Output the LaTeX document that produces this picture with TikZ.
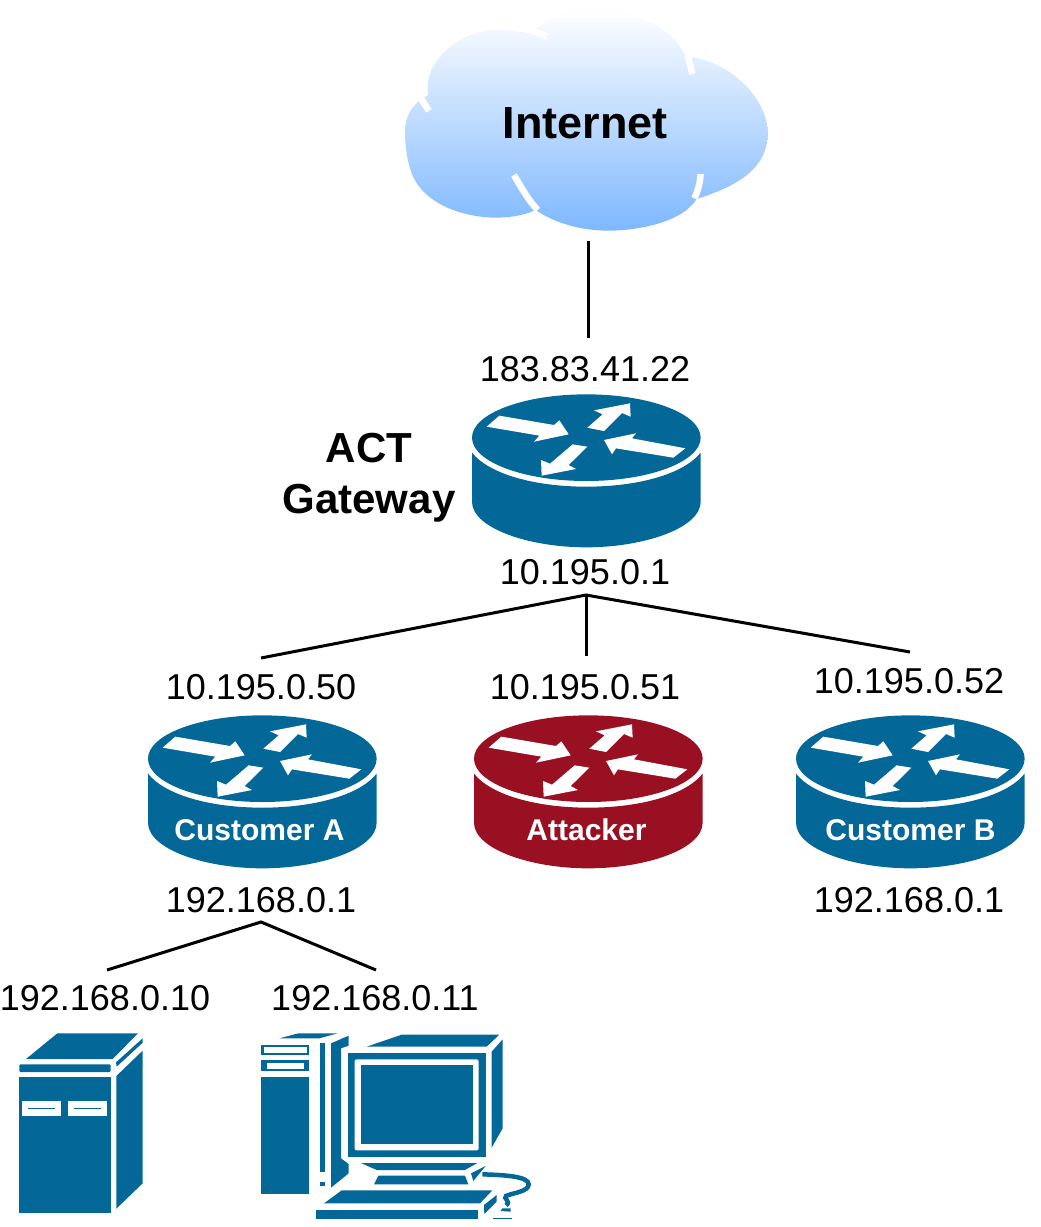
\documentclass[tikz,border=0pt]{standalone}
\usepackage{fontspec}
\setmainfont{Liberation Sans}
\definecolor{ciscoblue}{HTML}{036897}
\definecolor{attackred}{HTML}{981022}
\definecolor{cloudtop}{HTML}{FFFFFF}
\definecolor{cloudbot}{HTML}{7EB8FF}
\tikzset{
  lab/.style={font=\fontsize{36}{40}\selectfont,inner sep=0pt},
  boldlab/.style={font=\fontsize{42}{48}\selectfont\bfseries,inner sep=0pt,align=center},
  inrouter/.style={font=\fontsize{30}{34}\selectfont\bfseries,text=white,inner sep=0pt},
  link/.style={line width=3pt,black},
  cloudgap/.style={white,line width=6.5pt},
  zoomed/.style={scale=1/3},
  pics/router/.style={code={
    \begin{scope}[zoomed]
      \fill[#1] (379,158) ellipse [x radius=343,y radius=130];
      \fill[#1] (36,203) .. controls (90,270) and (230,305) .. (379,305)
        .. controls (528,305) and (668,270) .. (722,203) -- (722,350)
        .. controls (722,430) and (550,487) .. (379,487)
        .. controls (208,487) and (36,430) .. (36,350) -- cycle;
      \fill[white] (80,125) -- (118,92) -- (282,120) -- (298,106) -- (326,148) -- (222,170) -- (238,152) -- cycle;
      \fill[white] (382,128) -- (428,88) -- (402,76) -- (510,55) -- (512,95) -- (486,84) -- (432,138) -- cycle;
      \fill[white] (676,190) -- (640,218) -- (468,190) -- (456,208) -- (432,165) -- (528,145) -- (516,160) -- cycle;
      \fill[white] (338,178) -- (382,185) -- (326,240) -- (348,252) -- (245,272) -- (243,225) -- (270,236) -- cycle;
    \end{scope}
  }},
}
\begin{document}
\begin{tikzpicture}[x=1pt,y=-1pt]
\useasboundingbox (0,0) rectangle (1041,1227);
% cloud
\begin{scope}[shift={(395,0)},zoomed]
  \shade[top color=cloudtop,bottom color=cloudbot,draw=none]
    (425,85) .. controls (470,40) and (560,25) .. (620,28)
    .. controls (730,35) and (835,90) .. (870,165)
    -- (890,172)
    .. controls (1000,185) and (1118,290) .. (1118,400)
    .. controls (1118,510) and (1020,560) .. (905,597)
    .. controls (860,670) and (720,692) .. (640,692)
    .. controls (560,692) and (480,670) .. (422,630)
    .. controls (380,650) and (330,653) .. (300,653)
    .. controls (180,650) and (80,600) .. (50,520)
    .. controls (35,480) and (30,430) .. (30,395)
    .. controls (30,350) and (50,320) .. (78,298)
    -- (100,285)
    .. controls (80,190) and (190,92) .. (300,90)
    .. controls (345,90) and (385,95) .. (415,103) -- cycle;
  \draw[cloudgap] (78,296) -- (102,332);
  \draw[cloudgap] (412,92) -- (456,110);
  \draw[cloudgap] (878,166) -- (892,222);
  \draw[cloudgap] (357,525) .. controls (380,565) and (400,600) .. (428,630);
  \draw[cloudgap] (917,522) .. controls (915,550) and (908,575) .. (898,595);
\end{scope}
\node[boldlab,font=\fontsize{45}{50}\selectfont\bfseries] (inet) at (585,123) {Internet};
% routers
\pic (rgate) at (460,385) {router=ciscoblue};
\pic (rcusta) at (136,706) {router=ciscoblue};
\pic (rattack) at (462,706) {router=attackred};
\pic (rcustb) at (784,706) {router=ciscoblue};
% labels
\node[lab] (wan) at (585,369) {183.83.41.22};
\node[boldlab] (act) at (369,448) {ACT};
\node[boldlab] (gw) at (369,503) {Gateway};
\node[lab] (lan) at (585,572) {10.195.0.1};
\node[lab] (ipa) at (261,687) {10.195.0.50};
\node[lab] (ipx) at (585,687) {10.195.0.51};
\node[lab] (ipb) at (909,681) {10.195.0.52};
\node[inrouter] (na) at (259.5,830) {Customer A};
\node[inrouter] (nx) at (586.5,830) {Attacker};
\node[inrouter] (nb) at (910.5,830) {Customer B};
\node[lab] (lana) at (261,900) {192.168.0.1};
\node[lab] (lanb) at (909,900) {192.168.0.1};
\node[lab] (h1) at (105,998.5) {192.168.0.10};
\node[lab] (h2) at (375,998.5) {192.168.0.11};
% connectors
\coordinate (cloudend) at (588,241);
\coordinate (wanend) at (588,338);
\coordinate (hub) at (586,595);
\coordinate (enda) at (261,658);
\coordinate (endx) at (586,656);
\coordinate (endb) at (910,652);
\coordinate (huba) at (261,922);
\coordinate (endh1) at (107,970);
\coordinate (endh2) at (376,970);
\draw[link] (cloudend) -- (wanend);
\draw[link] (enda) -- (hub) -- (endb);
\draw[link] (hub) -- (endx);
\draw[link] (endh1) -- (huba) -- (endh2);
% server
\begin{scope}[shift={(0,1020)},zoomed]
  \fill[ciscoblue] (172,40) -- (414,40) -- (338,117) -- (78,117) -- cycle;
  \fill[ciscoblue,rounded corners=1pt] (58,133) rectangle (332,156);
  \fill[ciscoblue] (348,127) -- (428,55) -- (428,68) -- (350,140) -- cycle;
  \fill[ciscoblue] (349,168) -- (428,92) -- (428,490) -- (349,566) -- cycle;
  \fill[ciscoblue] (58,172) rectangle (332,580);
  \fill[white] (65,244) rectangle (183,287);
  \fill[white] (203,244) rectangle (321,287);
  \fill[ciscoblue] (83,263) rectangle (165,268);
  \fill[ciscoblue] (221,263) rectangle (303,268);
\end{scope}
% workstation
\begin{scope}[shift={(250,1020)},zoomed]
  \fill[ciscoblue] (88,55) -- (145,40) -- (262,40) -- (208,55) -- cycle;
  \fill[ciscoblue] (33,74) rectangle (177,104);
  \fill[white] (43,80) rectangle (172,98);
  \fill[ciscoblue] (33,121) rectangle (177,152);
  \fill[white] (52,128) rectangle (162,146);
  \fill[ciscoblue] (33,170) rectangle (177,521);
  \fill[ciscoblue] (209,68) rectangle (225,455);
  \fill[ciscoblue] (209,485) rectangle (225,497);
  \fill[ciscoblue] (243,70) -- (296,47) -- (296,77) -- (273,85) -- (273,415) -- (296,432) -- (296,460) -- (243,503) -- cycle;
  \fill[ciscoblue] (350,80) -- (455,44) -- (748,44) -- (710,80) -- cycle;
  \fill[ciscoblue] (725,95) -- (758,58) -- (758,325) -- (725,383) -- cycle;
  \fill[ciscoblue] (293,98) rectangle (707,411);
  \fill[white,rounded corners=2pt] (314,118) rectangle (686,391);
  \fill[ciscoblue] (332,136) rectangle (669,373);
  \fill[ciscoblue] (333,429) -- (682,429) -- (645,450) -- (380,450) -- cycle;
  \fill[ciscoblue] (385,467) -- (645,467) -- (655,493) -- (372,493) -- cycle;
  \fill[ciscoblue] (663,460) -- (707,438) -- (670,483) -- cycle;
  \draw[ciscoblue,line width=4.5pt] (697,463) .. controls (770,465) and (836,470) .. (836,493)
    .. controls (836,515) and (790,518) .. (768,528) .. controls (758,535) and (785,545) .. (768,556);
  \fill[ciscoblue] (275,511) -- (727,511) -- (690,550) -- (222,550) -- cycle;
  \fill[ciscoblue] (199,569) rectangle (683,598);
  \fill[ciscoblue] (702,555) -- (740,525) -- (740,545) -- (703,582) -- cycle;
  \fill[ciscoblue] (752,573) -- (757,565) -- (782,565) -- (782,575) -- cycle;
  \fill[ciscoblue] (728,593) rectangle (785,597);
\end{scope}
\end{tikzpicture}
\end{document}
